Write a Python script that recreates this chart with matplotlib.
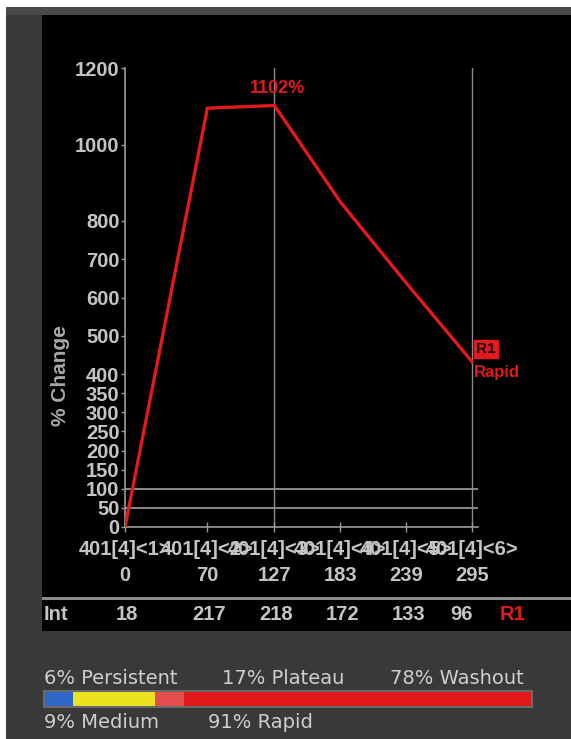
import matplotlib
matplotlib.use("Agg")
import matplotlib.pyplot as plt
import matplotlib.transforms as mtransforms
from matplotlib.patches import Rectangle

# ---------------- data ----------------
times = [0, 70, 127, 183, 239, 295]
pct_change = [0, 1095, 1102, 850, 638, 432]
intensities = [18, 217, 218, 172, 133, 96]
series_names = ["401[4]<1>", "401[4]<2>", "401[4]<3>", "401[4]<4>", "401[4]<5>", "401[4]<6>"]
y_ticks = [0, 50, 100, 150, 200, 250, 300, 350, 400, 500, 600, 700, 800, 1000, 1200]
ref_vlines = [127, 295]
ref_hlines = [50, 100]
peak_label = "1102%"
roi_label = "R1"
roi_type = "Rapid"

curve_types = ["Persistent", "Plateau", "Washout"]
curve_pcts = [6, 17, 78]
curve_colors = ["#2f68c8", "#ece21e", "#e01a1a"]
washout_highlight = 6
initial_types = ["Medium", "Rapid"]
initial_pcts = [9, 91]

# ---------------- figure ----------------
W, H = 571, 739
fig = plt.figure(figsize=(W / 100, H / 100), dpi=100, facecolor="white")


def fx(px):
    return px / W


def fy(py):
    return 1 - py / H


def rect(x0, y0, x1, y1, color):
    fig.patches.append(Rectangle((fx(x0), fy(y1)), fx(x1) - fx(x0), fy(y0) - fy(y1),
                                 transform=fig.transFigure, facecolor=color,
                                 edgecolor="none", zorder=-10))


# frame and panels
rect(6, 7, 571, 739, "#393939")
rect(6, 7, 571, 15, "#4a4a4a")
rect(42, 15, 571, 597, "#000000")
rect(42, 597, 571, 600, "#8c8c8c")
rect(42, 600, 571, 631, "#000000")

GRAY_TXT = "#c4c4c4"
AX_COL = "#9a9a9a"
RED = "#e3191c"
FONT = "Liberation Sans"

ax = fig.add_axes([fx(125), fy(527), fx(478) - fx(125), fy(68) - fy(527)])
ax.set_zorder(5)
ax.set_facecolor("none")
ax.set_xlim(0, 300)
ax.set_ylim(0, 1200)

for s in ["top", "right"]:
    ax.spines[s].set_visible(False)
for s in ["left", "bottom"]:
    ax.spines[s].set_color(AX_COL)
    ax.spines[s].set_linewidth(1.2)

for v in ref_vlines:
    ax.axvline(v, color="#8a8a8a", lw=1.0, zorder=1)
for h in ref_hlines:
    ax.axhline(h, color="#8a8a8a", lw=1.4, zorder=1)

ax.plot(times, pct_change, color=RED, lw=2.4, zorder=3, solid_joinstyle="miter")

ax.set_yticks(y_ticks)
ax.set_yticklabels([str(v) for v in y_ticks], fontfamily=FONT, fontweight="bold",
                   fontsize=14.5, color=GRAY_TXT)
ax.tick_params(axis="y", direction="out", length=3, width=1, color=AX_COL, pad=1)

ax.set_xticks(times)
ax.set_xticklabels([f"{n}\n{t}" for n, t in zip(series_names, times)], fontfamily=FONT,
                   fontweight="bold", fontsize=14.5, color=GRAY_TXT, linespacing=1.45)
ax.tick_params(axis="x", direction="inout", length=7, width=1, color=AX_COL, pad=6)

ax.set_ylabel("% Change", fontfamily=FONT, fontweight="bold", fontsize=15, color="#a8a8a8",
              labelpad=2)
ax.yaxis.set_label_coords(-0.155, 0.33)

# peak annotation
ax.annotate(peak_label, xy=(times[2], pct_change[2]), xytext=(2, 12), textcoords="offset points",
            ha="center", va="center", color=RED, fontfamily=FONT, fontweight="bold", fontsize=13)

# ROI label
ax.annotate(roi_label, xy=(times[-1], pct_change[-1]), xytext=(10, 9), textcoords="offset points",
            ha="center", va="center", color="#1a0000", fontfamily=FONT, fontweight="bold",
            fontsize=11, bbox=dict(boxstyle="square,pad=0.12", facecolor=RED, edgecolor=RED),
            annotation_clip=False)
ax.annotate(roi_type, xy=(times[-1], pct_change[-1]), xytext=(1, -8), textcoords="offset points",
            ha="left", va="center", color=RED, fontfamily=FONT, fontweight="bold", fontsize=12,
            annotation_clip=False)

# Int row
trans = mtransforms.blended_transform_factory(ax.transData, fig.transFigure)
fig.text(fx(44), fy(615), "Int", ha="left", va="center", color=GRAY_TXT, fontfamily=FONT,
         fontweight="bold", fontsize=14.5)
for i, (t, v) in enumerate(zip(times, intensities)):
    off = -11 if i == len(times) - 1 else 2
    ax.annotate(str(v), xy=(t, fy(615)), xycoords=trans, xytext=(off, 0),
                textcoords="offset pixels", ha="center", va="center", color=GRAY_TXT,
                fontfamily=FONT, fontweight="bold", fontsize=14.5, annotation_clip=False)
ax.annotate(roi_label, xy=(times[-1], fy(615)), xycoords=trans, xytext=(40, 0),
            textcoords="offset pixels", ha="center", va="center", color=RED,
            fontfamily=FONT, fontweight="bold", fontsize=14.5, annotation_clip=False)

# ---------------- curve type bar ----------------
bx = fig.add_axes([fx(44), fy(707), fx(532) - fx(44), fy(691) - fy(707)])
bx.set_zorder(5)
bx.set_xlim(0, sum(curve_pcts))
bx.set_ylim(0, 1)
bx.axis("off")
left = 0
for p, c in zip(curve_pcts, curve_colors):
    bx.barh(0.5, p, left=left, height=1, color=c, edgecolor="none")
    left += p
bx.barh(0.5, washout_highlight, left=curve_pcts[0] + curve_pcts[1], height=1,
        color="#e85a5a", edgecolor="none", alpha=0.8)
bx.add_patch(Rectangle((0, 0), sum(curve_pcts), 1, facecolor="none", edgecolor="#6a6a6a",
                       lw=1.5, clip_on=False))

LEG_FONT = "DejaVu Sans"
LEG_COL = "#cfcfcf"
top_x = [44, 222, 390]
for x, p, n in zip(top_x, curve_pcts, curve_types):
    fig.text(fx(x), fy(679), f"{p}% {n}", ha="left", va="center", color=LEG_COL,
             fontfamily=LEG_FONT, fontsize=14)
bot_x = [44, 208]
for x, p, n in zip(bot_x, initial_pcts, initial_types):
    fig.text(fx(x), fy(722), f"{p}% {n}", ha="left", va="center", color=LEG_COL,
             fontfamily=LEG_FONT, fontsize=14)

fig.savefig("out.png", dpi=100, facecolor="white")
